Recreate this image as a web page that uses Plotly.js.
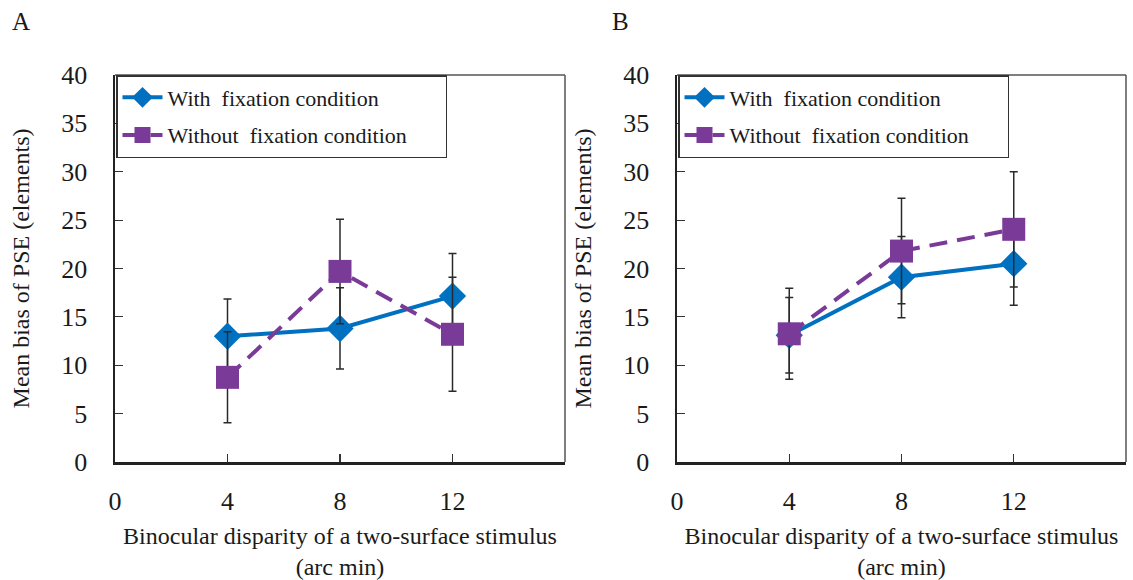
<!DOCTYPE html>
<html>
<head>
<meta charset="utf-8">
<script src="https://cdn.plot.ly/plotly-3.0.1.min.js"></script>
<style>html,body{margin:0;padding:0;background:#fff;}#chart{width:1133px;height:580px;}</style>
</head>
<body>
<div id="chart"></div>
<script>
// ---- data ----
const disparity = [4, 8, 12];
const xTickVals = [0, 4, 8, 12];
const xTickText = ['0', '4', '8', '12'];
const seriesNames = ['With\u00a0 fixation condition', 'Without\u00a0 fixation condition\u00a0\u00a0\u00a0\u00a0\u00a0\u00a0'];

const aWith = [13.0, 13.8, 17.15];
const aWithErr = [3.85, 4.2, 4.4];
const aWithout = [8.75, 19.7, 13.2];
const aWithoutErr = [4.7, 5.4, 5.9];

const bWith = [13.1, 19.1, 20.5];
const bWithErr = [3.9, 4.2, 4.3];
const bWithout = [13.25, 21.8, 24.05];
const bWithoutErr = [4.7, 5.45, 5.95];

const panelLabels = ['A', 'B'];
const xTitle = 'Binocular disparity of a two-surface stimulus<br>(arc min)';
const yTitle = 'Mean bias of PSE (elements)';

// ---- styles ----
const BLUE = '#0070c0';
const PURPLE = '#7a3a98';
const FONT = 'Times New Roman, Liberation Serif, DejaVu Serif, serif';
const W = 1133, H = 580;
const px = v => v / W;
const py = v => 1 - v / H;

function errBar(arr) {
  return {type: 'data', array: arr, visible: true, color: '#2a2a2a', thickness: 1.5, width: 4};
}
function withTrace(y, err, xa, ya, leg) {
  return {x: disparity, y: y, xaxis: xa, yaxis: ya, legend: leg, name: seriesNames[0],
    mode: 'lines+markers', type: 'scatter', legendgroup: 'w' + leg,
    line: {color: BLUE, width: 4},
    marker: {symbol: 'diamond', size: 21, color: BLUE},
    error_y: errBar(err)};
}
function withoutTrace(y, err, xa, ya, leg) {
  return {x: disparity, y: y, xaxis: xa, yaxis: ya, legend: leg, name: seriesNames[1],
    mode: 'lines+markers', type: 'scatter', legendgroup: 'wo' + leg,
    line: {color: PURPLE, width: 4, dash: '18px,10px'},
    marker: {symbol: 'square', size: 23, color: PURPLE},
    error_y: errBar(err)};
}

const data = [
  withTrace(aWith, aWithErr, 'x', 'y', 'legend'),
  withoutTrace(aWithout, aWithoutErr, 'x', 'y', 'legend'),
  withTrace(bWith, bWithErr, 'x2', 'y2', 'legend2'),
  withoutTrace(bWithout, bWithoutErr, 'x2', 'y2', 'legend2')
];

function xAxis(domain, anchor) {
  return {domain: domain, anchor: anchor, range: [0, 16], tickvals: xTickVals, ticktext: xTickText,
    ticks: 'inside', ticklen: 8, tickwidth: 1.2, tickcolor: '#333',
    showline: true, linecolor: '#222', linewidth: 2.5, showgrid: false, zeroline: false,
    ticklabelstandoff: 14,
    tickfont: {family: FONT, size: 26, color: '#1a1a1a'},
    title: {text: xTitle, font: {family: FONT, size: 24, color: '#1a1a1a'}, standoff: 15}};
}
function yAxis(domain, anchor) {
  return {domain: domain, anchor: anchor, range: [0, 40], dtick: 5,
    ticks: 'inside', ticklen: 8, tickwidth: 1.2, tickcolor: '#333',
    showline: true, linecolor: '#222', linewidth: 2.5, showgrid: false, zeroline: false,
    ticklabelstandoff: 20,
    tickfont: {family: FONT, size: 26, color: '#1a1a1a'},
    title: {text: yTitle, font: {family: FONT, size: 24, color: '#1a1a1a'}, standoff: 25}};
}
function legendCfg(x) {
  return {x: x, y: py(75), xanchor: 'left', yanchor: 'top',
    bgcolor: '#fff', bordercolor: '#333', borderwidth: 1.5,
    font: {family: FONT, size: 22, color: '#1a1a1a'},
    traceorder: 'grouped', tracegroupgap: 6, itemwidth: 40};
}

const yDom = [py(462), py(75)];
const layout = {
  width: W, height: H,
  margin: {l: 0, r: 0, t: 0, b: 0},
  paper_bgcolor: '#fff', plot_bgcolor: '#fff',
  font: {family: FONT},
  showlegend: true,
  xaxis: xAxis([px(115), px(565)], 'y'),
  yaxis: yAxis(yDom, 'x'),
  xaxis2: xAxis([px(677), px(1126)], 'y2'),
  yaxis2: yAxis(yDom, 'x2'),
  legend: legendCfg(px(116)),
  legend2: legendCfg(px(678)),
  shapes: [
    {type: 'line', xref: 'x domain', yref: 'y domain', x0: 0, x1: 1, y0: 1, y1: 1, line: {color: '#555', width: 1.5}},
    {type: 'line', xref: 'x domain', yref: 'y domain', x0: 1, x1: 1, y0: 0, y1: 1, line: {color: '#555', width: 1.5}},
    {type: 'line', xref: 'x2 domain', yref: 'y2 domain', x0: 0, x1: 1, y0: 1, y1: 1, line: {color: '#555', width: 1.5}},
    {type: 'line', xref: 'x2 domain', yref: 'y2 domain', x0: 1, x1: 1, y0: 0, y1: 1, line: {color: '#555', width: 1.5}}
  ],
  annotations: [
    {text: panelLabels[0], xref: 'paper', yref: 'paper', x: px(10), y: py(22), xanchor: 'left', yanchor: 'middle', showarrow: false, font: {family: FONT, size: 25, color: '#1a1a1a'}},
    {text: panelLabels[1], xref: 'paper', yref: 'paper', x: px(610), y: py(22), xanchor: 'left', yanchor: 'middle', showarrow: false, font: {family: FONT, size: 25, color: '#1a1a1a'}}
  ]
};

Plotly.newPlot('chart', data, layout, {displayModeBar: false, staticPlot: true});
</script>
</body>
</html>
